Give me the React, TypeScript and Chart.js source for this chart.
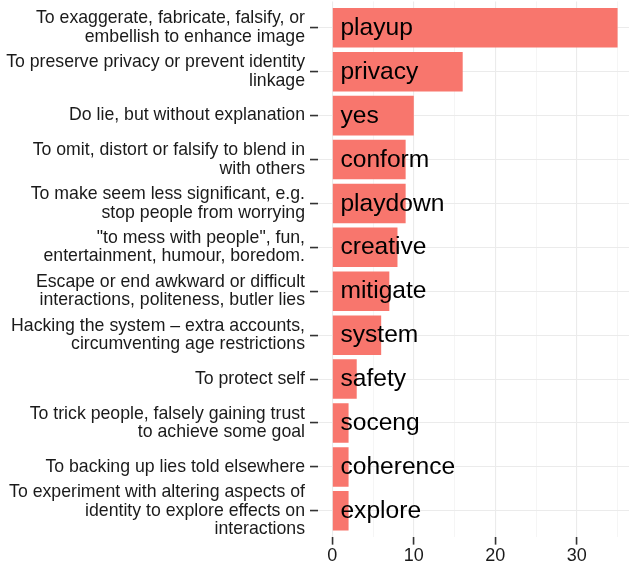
import React, { useEffect, useRef } from 'react';
import { Chart, registerables } from 'chart.js';

Chart.register(...registerables);

const reasons: string[][] = [
  ['To exaggerate, fabricate, falsify, or', 'embellish to enhance image'],
  ['To preserve privacy or prevent identity', 'linkage'],
  ['Do lie, but without explanation'],
  ['To omit, distort or falsify to blend in', 'with others'],
  ['To make seem less significant, e.g.', 'stop people from worrying'],
  ['"to mess with people", fun,', 'entertainment, humour, boredom.'],
  ['Escape or end awkward or difficult', 'interactions, politeness, butler lies'],
  ['Hacking the system \u2013 extra accounts,', 'circumventing age restrictions'],
  ['To protect self'],
  ['To trick people, falsely gaining trust', 'to achieve some goal'],
  ['To backing up lies told elsewhere'],
  ['To experiment with altering aspects of', 'identity to explore effects on', 'interactions'],
];

const codes: string[] = [
  'playup', 'privacy', 'yes', 'conform', 'playdown', 'creative',
  'mitigate', 'system', 'safety', 'soceng', 'coherence', 'explore',
];

const counts: number[] = [35, 16, 10, 9, 9, 8, 7, 6, 3, 2, 2, 2];

const xGridTicks: number[] = [0, 5, 10, 15, 20, 25, 30, 35];
const xLabelTicks: number[] = [0, 10, 20, 30];

const FONT = '"Liberation Sans", Arial, Helvetica, sans-serif';

const barLabelPlugin = {
  id: 'barLabels',
  afterDatasetsDraw(chart: any) {
    const meta = chart.getDatasetMeta(0);
    const xs = chart.scales.x;
    const ctx = chart.ctx;
    ctx.save();
    ctx.font = `24.6px ${FONT}`;
    ctx.fillStyle = '#000000';
    ctx.textAlign = 'left';
    ctx.textBaseline = 'middle';
    meta.data.forEach((el: any, i: number) => {
      ctx.fillText(codes[i], xs.getPixelForValue(1), el.y + 0.3);
    });
    ctx.restore();
  },
};

export default function App() {
  const ref = useRef<HTMLCanvasElement | null>(null);

  useEffect(() => {
    if (!ref.current) return;
    const chart = new Chart(ref.current, {
      type: 'bar',
      data: {
        datasets: [
          {
            data: counts.map((v, i) => ({ x: v, y: i })),
            backgroundColor: '#F8766D',
            borderWidth: 0,
            barPercentage: 0.9,
            categoryPercentage: 1,
          },
        ],
      },
      options: {
        indexAxis: 'y',
        responsive: false,
        animation: false,
        layout: { padding: { top: 1.45, right: 0, bottom: 0, left: 0 } },
        plugins: {
          legend: { display: false },
          tooltip: { enabled: false },
        },
        scales: {
          x: {
            type: 'linear',
            position: 'bottom',
            offset: false,
            min: -1.75,
            max: 36.4,
            afterBuildTicks: (s: any) => {
              s.ticks = xGridTicks.map((v) => ({ value: v }));
            },
            afterFit: (s: any) => {
              s.height = 30.85;
              s.paddingLeft = 0;
              s.paddingRight = 0;
            },
            border: { display: false },
            grid: {
              offset: false,
              color: (c: any) => (c.tick && xLabelTicks.includes(c.tick.value) ? '#EBEBEB' : '#F0F0F0'),
              lineWidth: (c: any) => (c.tick && xLabelTicks.includes(c.tick.value) ? 1.1 : 0.7),
              tickColor: (c: any) =>
                c.tick && xLabelTicks.includes(c.tick.value) ? '#333333' : 'rgba(0,0,0,0)',
              tickWidth: 1.6,
              tickLength: 7.5,
            },
            ticks: {
              autoSkip: false,
              maxRotation: 0,
              padding: 1,
              color: '#1a1a1a',
              font: { family: FONT, size: 18 },
              callback: (v: any) => (xLabelTicks.includes(Number(v)) ? String(v) : ''),
            },
          },
          y: {
            type: 'linear',
            position: 'left',
            offset: false,
            reverse: true,
            min: -0.6,
            max: 11.6,
            afterBuildTicks: (s: any) => {
              s.ticks = codes.map((_, i) => ({ value: i }));
            },
            afterFit: (s: any) => {
              s.width = 318;
              s.paddingTop = 0;
              s.paddingBottom = 0;
            },
            border: { display: false },
            grid: {
              offset: false,
              color: '#EBEBEB',
              lineWidth: 1.1,
              tickColor: '#333333',
              tickWidth: 1.6,
              tickLength: 8,
            },
            ticks: {
              autoSkip: false,
              padding: 5,
              color: '#1a1a1a',
              font: { family: FONT, size: 17.7, lineHeight: '18.5px' },
              callback: (v: any) => reasons[Number(v)] ?? '',
            },
          },
        },
      },
      plugins: [barLabelPlugin],
    });
    return () => chart.destroy();
  }, []);

  return (
    <div style={{ position: 'absolute', left: 0, top: 0, width: 629, height: 568 }}>
      <canvas ref={ref} width={629} height={568} style={{ display: 'block' }} />
    </div>
  );
}
